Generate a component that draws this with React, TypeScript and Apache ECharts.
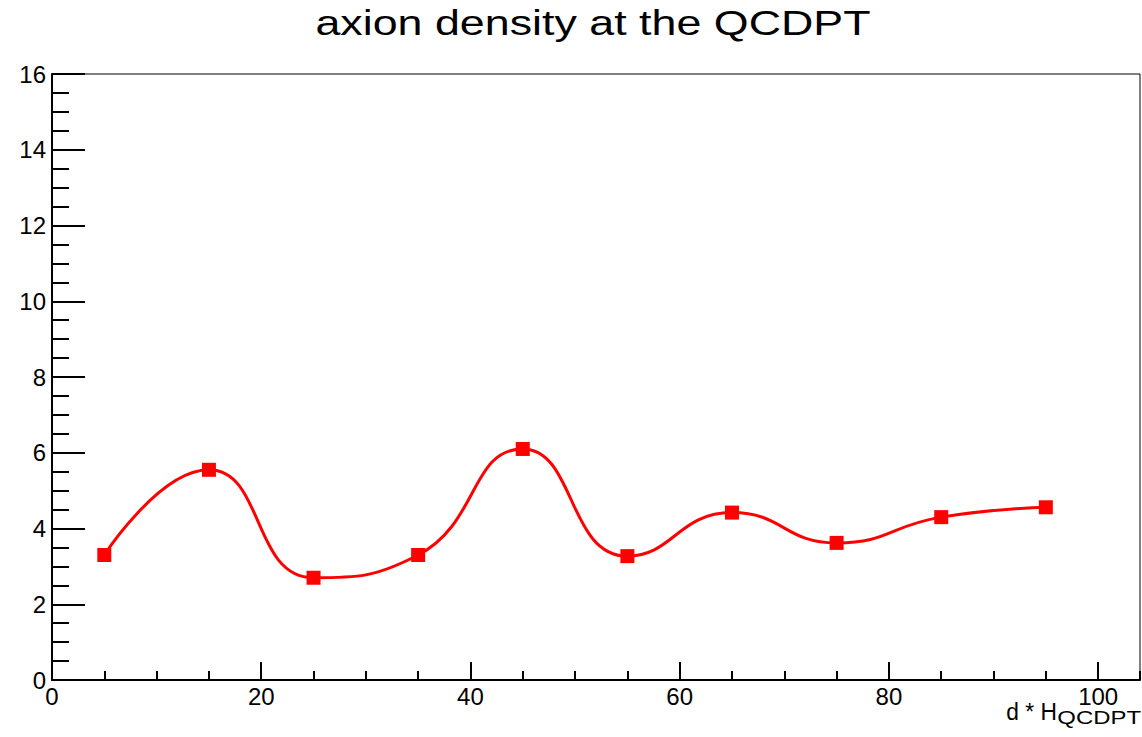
import React, { useEffect, useRef } from "react";
import * as echarts from "echarts";

const xValues = [5, 15, 25, 35, 45, 55, 65, 75, 85, 95];
const yValues = [3.3, 5.55, 2.7, 3.3, 6.1, 3.27, 4.42, 3.62, 4.3, 4.56];
const titleText = "axion density at the QCDPT";
const xTitleMain = "d * H";
const xTitleSub = "QCDPT";

const FONT = "Liberation Sans, Arial, Helvetica, sans-serif";

export default function App() {
  const ref = useRef<HTMLDivElement>(null);
  useEffect(() => {
    if (!ref.current) return;
    const chart = echarts.init(ref.current, undefined, { renderer: "svg" });
    const data = xValues.map((x, i) => [x, yValues[i]]);
    chart.setOption({
      animation: false,
      backgroundColor: "#ffffff",
      textStyle: { fontFamily: FONT },
      grid: {
        left: 52,
        right: 2,
        top: 74,
        bottom: 57,
        show: true,
        borderColor: "#000",
        borderWidth: 1,
        backgroundColor: "transparent",
      },
      xAxis: [
        {
          type: "value",
          min: 0,
          max: 104,
          interval: 20,
          position: "bottom",
          axisLine: { show: true, onZero: false, lineStyle: { color: "#000", width: 2 } },
          axisTick: { show: true, inside: true, length: 18, lineStyle: { color: "#000", width: 2 } },
          axisLabel: {
            show: true,
            margin: 4,
            fontSize: 24,
            color: "#000",
            fontFamily: FONT,
            showMaxLabel: false,
            formatter: (v: number) => (v > 100 ? "" : String(v)),
          },
          splitLine: { show: false },
        },
        {
          type: "value",
          min: 0,
          max: 104,
          interval: 5,
          position: "bottom",
          axisLine: { show: false },
          axisTick: { show: true, inside: true, length: 9, lineStyle: { color: "#000", width: 2 } },
          axisLabel: { show: false },
          splitLine: { show: false },
        },
      ],
      yAxis: {
        type: "value",
        min: 0,
        max: 16,
        interval: 2,
        axisLine: { show: true, onZero: false, lineStyle: { color: "#000", width: 2 } },
        axisTick: { show: true, inside: true, length: 33, lineStyle: { color: "#000", width: 2 } },
        minorTick: { show: true, splitNumber: 4, length: 17, lineStyle: { color: "#000", width: 2 } },
        axisLabel: { margin: 6, fontSize: 24, color: "#000", fontFamily: FONT },
        splitLine: { show: false },
      },
      graphic: [
        {
          type: "text",
          x: 593,
          y: 23,
          scaleX: 1.28,
          style: {
            text: titleText,
            font: `35px ${FONT}`,
            fill: "#000",
            align: "center",
            verticalAlign: "middle",
          },
        },
        {
          type: "text",
          x: 1057,
          y: 712,
          scaleX: 0.95,
          style: {
            text: xTitleMain,
            font: `24px ${FONT}`,
            fill: "#000",
            align: "right",
            verticalAlign: "middle",
          },
        },
        {
          type: "text",
          x: 1141,
          y: 718,
          scaleX: 1.33,
          style: {
            text: xTitleSub,
            font: `18px ${FONT}`,
            fill: "#000",
            align: "right",
            verticalAlign: "middle",
          },
        },
      ],
      series: [
        {
          type: "line",
          xAxisIndex: 0,
          data,
          smooth: 0.5,
          symbol: "rect",
          symbolSize: 14,
          itemStyle: { color: "#ff0000" },
          lineStyle: { color: "#ff0000", width: 3 },
        },
      ],
    });
    return () => chart.dispose();
  }, []);
  return (
    <div
      ref={ref}
      style={{ position: "fixed", left: 0, top: 0, width: 1142, height: 737 }}
    />
  );
}
